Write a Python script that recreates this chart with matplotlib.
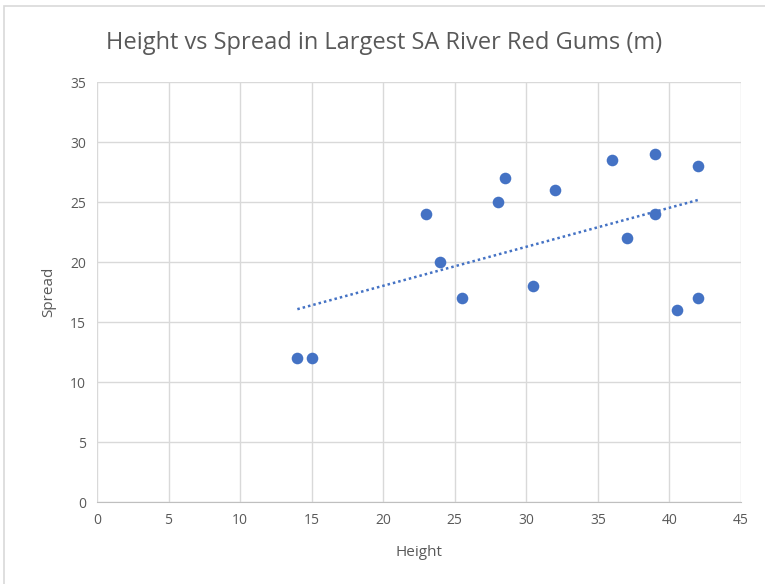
import numpy as np
import matplotlib
matplotlib.use("Agg")
import matplotlib.pyplot as plt
from matplotlib.patches import Rectangle

height = [14, 15, 23, 24, 25.5, 28, 28.5, 30.5, 32, 36, 37, 39, 39, 40.5, 42, 42]
spread = [12, 12, 24, 20, 17, 25, 27, 18, 26, 28.5, 22, 29, 24, 16, 28, 17]
xticks = list(range(0, 50, 5))
yticks = list(range(0, 40, 5))

plt.rcParams['font.family'] = ['Open Sans', 'DejaVu Sans']
fig = plt.figure(figsize=(7.65, 5.84), dpi=100)
fig.patches.append(Rectangle((4/765, -0.1), 1.2, 1 - 6/584 + 0.1, transform=fig.transFigure,
                             fill=False, edgecolor='#d9d9d9', linewidth=1.2))
ax = fig.add_axes([97/765, 1 - 502/584, 644/765, 420/584])

blue = '#4472c4'
ax.scatter(height, spread, s=70, color=blue, zorder=3, linewidths=0)
# linear trendline
m, b = np.polyfit(height, spread, 1)
tx = np.array([min(height), max(height)])
ax.plot(tx, m * tx + b, linestyle=(0, (1, 1.2)), color=blue, linewidth=1.8, zorder=2)

ax.set_xlim(0, 45)
ax.set_ylim(0, 35)
ax.set_xticks(xticks)
ax.set_yticks(yticks)
ax.grid(True, color='#d9d9d9', linewidth=1)
ax.set_axisbelow(True)
for s in ['top', 'right', 'left']:
    ax.spines[s].set_visible(False)
ax.spines['bottom'].set_color('#bfbfbf')
ax.tick_params(length=0, labelsize=10, labelcolor='#595959', pad=8)
ax.set_xlabel('Height', fontsize=11, color='#595959', labelpad=12)
ax.set_ylabel('Spread', fontsize=11, color='#595959', labelpad=10)
fig.text(0.5 + 4/765/2, 1 - 43/584, 'Height vs Spread in Largest SA River Red Gums (m)',
         ha='center', va='center', fontsize=17, color='#595959')
fig.savefig('out.png', dpi=100)
